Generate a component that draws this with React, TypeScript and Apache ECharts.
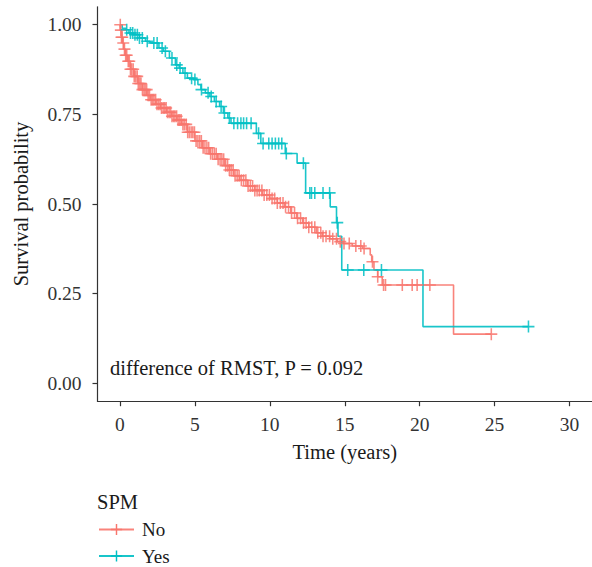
import React, { useEffect, useRef } from "react";
import * as echarts from "echarts";

// ---- Data ----
const xTicks = [0, 5, 10, 15, 20, 25, 30];
const yTicks = [0, 0.25, 0.5, 0.75, 1.0];

const groupNames = ["No", "Yes"];
const groupColors = ["#F8766D", "#00BFC4"];

// Kaplan-Meier step points for SPM = No (time in years, survival after the drop)
const noTimes = [0, 0.03, 0.1, 0.17, 0.25, 0.35, 0.5, 0.7, 0.94, 1.2, 1.49, 1.8, 2.04, 2.4, 2.7, 3.1, 3.46, 3.8, 4.1, 4.5, 5.0, 5.5, 6.0, 6.5, 7.0, 7.3, 7.6, 8.0, 8.5, 9.0, 9.5, 10.0, 10.5, 11.0, 11.4, 11.8, 12.2, 12.6, 13.1, 13.5, 14.0, 14.5, 14.9, 15.5, 16.2, 16.7, 16.8, 16.95, 17.2, 17.5, 22.26];
const noSurv = [1.0, 0.985, 0.965, 0.949, 0.932, 0.915, 0.898, 0.876, 0.856, 0.836, 0.819, 0.803, 0.791, 0.778, 0.768, 0.756, 0.745, 0.734, 0.722, 0.7, 0.676, 0.657, 0.64, 0.625, 0.607, 0.595, 0.579, 0.566, 0.55, 0.538, 0.525, 0.515, 0.503, 0.492, 0.475, 0.46, 0.447, 0.435, 0.42, 0.41, 0.403, 0.395, 0.39, 0.383, 0.376, 0.358, 0.339, 0.316, 0.297, 0.274, 0.137];
const noEnd = 24.78;
const noCensor = [0.02, 0.06, 0.1, 0.15, 0.22, 0.3, 0.38, 0.45, 0.55, 0.62, 0.7, 0.78, 0.88, 0.95, 1.05, 1.15, 1.22, 1.32, 1.4, 1.5, 1.6, 1.68, 1.78, 1.88, 1.97, 2.08, 2.18, 2.27, 2.38, 2.47, 2.58, 2.68, 2.77, 2.88, 2.98, 3.08, 3.17, 3.28, 3.38, 3.47, 3.58, 3.67, 3.78, 3.88, 3.98, 4.08, 4.2, 4.3, 4.42, 4.52, 4.63, 4.75, 4.86, 4.97, 5.08, 5.2, 5.32, 5.43, 5.55, 5.67, 5.8, 5.92, 6.05, 6.17, 6.3, 6.42, 6.55, 6.68, 6.8, 6.92, 7.05, 7.18, 7.3, 7.42, 7.55, 7.68, 7.82, 7.95, 8.1, 8.25, 8.4, 8.55, 8.7, 8.85, 9.0, 9.15, 9.3, 9.47, 9.62, 9.8, 9.97, 10.15, 10.32, 10.5, 10.7, 10.88, 11.05, 11.25, 11.45, 11.65, 11.85, 12.05, 12.25, 12.42, 12.6, 12.8, 13.0, 13.2, 13.4, 13.55, 13.75, 13.99, 14.2, 14.45, 14.7, 14.95, 15.3, 15.74, 16.07, 16.29, 16.85, 17.2, 17.59, 17.72, 18.84, 19.5, 19.83, 20.68, 24.78];

// Kaplan-Meier step points for SPM = Yes
const yesTimes = [0, 0.15, 0.4, 0.6, 0.9, 1.3, 1.7, 2.0, 2.6, 2.9, 3.3, 3.7, 3.95, 4.2, 4.5, 4.9, 5.2, 5.4, 5.7, 6.0, 6.3, 6.65, 6.9, 7.2, 7.41, 9.1, 9.4, 11.03, 11.82, 12.39, 14.03, 14.45, 14.55, 14.8, 20.22];
const yesSurv = [1.0, 0.99, 0.986, 0.977, 0.972, 0.963, 0.954, 0.949, 0.935, 0.926, 0.907, 0.888, 0.879, 0.865, 0.851, 0.847, 0.833, 0.819, 0.81, 0.8, 0.786, 0.772, 0.754, 0.74, 0.725, 0.697, 0.669, 0.641, 0.614, 0.531, 0.492, 0.448, 0.41, 0.316, 0.158];
const yesEnd = 27.26;
const yesCensor = [0.45, 0.7, 0.85, 1.0, 1.16, 1.3, 1.49, 1.82, 2.26, 2.48, 2.81, 3.03, 3.47, 3.79, 4.01, 4.34, 4.78, 5.0, 5.44, 5.88, 6.09, 6.42, 6.75, 6.97, 7.3, 7.6, 7.85, 8.07, 8.25, 8.45, 8.75, 9.25, 9.55, 9.93, 10.15, 10.37, 10.59, 10.8, 11.1, 12.24, 12.67, 12.78, 13.0, 13.55, 13.99, 14.5, 15.2, 16.27, 17.45, 27.26];

const annotation = "difference of RMST, P = 0.092";
const xTitle = "Time (years)";
const yTitle = "Survival probability";
const legendTitle = "SPM";

// ---- helpers ----
const PLUS = "path://M0,4.35H10V5.65H0Z M4.35,0H5.65V10H4.35Z";
const FONT = '"Liberation Serif", "Times New Roman", serif';
const TEXT_SIZE = 20.5;
const TICK_SIZE = 19.5;
const LEGEND_SIZE = 19;

function survAt(times: number[], surv: number[], t: number) {
  let s = surv[0];
  for (let i = 0; i < times.length; i++) {
    if (times[i] <= t) s = surv[i];
  }
  return s;
}

function stepData(times: number[], surv: number[], end: number) {
  const d = times.map((t, i) => [t, surv[i]]);
  d.push([end, surv[surv.length - 1]]);
  return d;
}

function censorData(times: number[], surv: number[], cens: number[]) {
  return cens.map((t) => [t, survAt(times, surv, t)]);
}

export default function App() {
  const ref = useRef<HTMLDivElement>(null);
  useEffect(() => {
    if (!ref.current) return;
    const chart = echarts.init(ref.current, undefined, { renderer: "svg" });
    const groups = [
      { times: noTimes, surv: noSurv, end: noEnd, cens: noCensor },
      { times: yesTimes, surv: yesSurv, end: yesEnd, cens: yesCensor },
    ];
    const series: any[] = [];
    groups.forEach((g, i) => {
      series.push({
        name: groupNames[i],
        type: "line",
        step: "end",
        data: stepData(g.times, g.surv, g.end),
        showSymbol: false,
        symbol: PLUS,
        symbolSize: 12,
        lineStyle: { color: groupColors[i], width: 1.6, opacity: 0.9 },
        itemStyle: { color: groupColors[i] },
        silent: true,
        z: 2,
      });
    });
    groups.forEach((g, i) => {
      series.push({
        name: groupNames[i] + " censored",
        type: "scatter",
        data: censorData(g.times, g.surv, g.cens),
        symbol: PLUS,
        symbolSize: 12,
        itemStyle: { color: groupColors[i], opacity: 0.85 },
        silent: true,
        z: 3,
      });
    });

    chart.setOption({
      animation: false,
      grid: { left: 97.5, top: 6.8, width: 501.6, height: 394.4, containLabel: false },
      xAxis: {
        type: "value",
        min: -1.5,
        max: 31.5,
        name: xTitle,
        nameLocation: "middle",
        nameGap: 40,
        nameTextStyle: { fontFamily: FONT, fontSize: TEXT_SIZE, color: "#1a1a1a" },
        splitLine: { show: false },
        axisLine: { show: true, onZero: false, lineStyle: { color: "#333", width: 1.2 } },
        axisTick: { show: true, length: 5, lineStyle: { color: "#333", width: 1.2 }, customValues: xTicks },
        axisLabel: {
          customValues: xTicks,
          margin: 13,
          fontFamily: FONT,
          fontSize: TICK_SIZE,
          color: "#333",
        },
      },
      yAxis: {
        type: "value",
        min: -0.05,
        max: 1.05,
        name: yTitle,
        nameLocation: "middle",
        nameRotate: 90,
        nameGap: 66,
        nameTextStyle: { fontFamily: FONT, fontSize: TEXT_SIZE, color: "#1a1a1a" },
        splitLine: { show: false },
        axisLine: { show: true, onZero: false, lineStyle: { color: "#333", width: 1.2 } },
        axisTick: { show: true, length: 5, lineStyle: { color: "#333", width: 1.2 }, customValues: yTicks },
        axisLabel: {
          customValues: yTicks,
          margin: 16,
          fontFamily: FONT,
          fontSize: TICK_SIZE,
          color: "#333",
          formatter: (v: number) => v.toFixed(2),
        },
      },
      legend: {
        data: groupNames,
        orient: "vertical",
        left: 98,
        top: 520,
        height: 80,
        padding: 0,
        itemWidth: 35,
        itemHeight: 14,
        itemGap: 7.5,
        selectedMode: false,
        textStyle: { fontFamily: FONT, fontSize: LEGEND_SIZE, color: "#1a1a1a", padding: [0, 0, 0, 3] },
      },
      graphic: [
        {
          type: "text",
          x: 110,
          y: 368,
          style: {
            text: annotation,
            font: `${TEXT_SIZE}px ${FONT}`,
            fill: "#1a1a1a",
            verticalAlign: "middle",
            textVerticalAlign: "middle",
          },
        },
        {
          type: "text",
          x: 97,
          y: 502,
          style: {
            text: legendTitle,
            font: `${TEXT_SIZE}px ${FONT}`,
            fill: "#1a1a1a",
            verticalAlign: "middle",
            textVerticalAlign: "middle",
          },
        },
      ],
      series,
    });
    return () => chart.dispose();
  }, []);
  return (
    <div
      ref={ref}
      style={{ position: "fixed", left: 0, top: 0, width: 592, height: 567, background: "#fff" }}
    />
  );
}
